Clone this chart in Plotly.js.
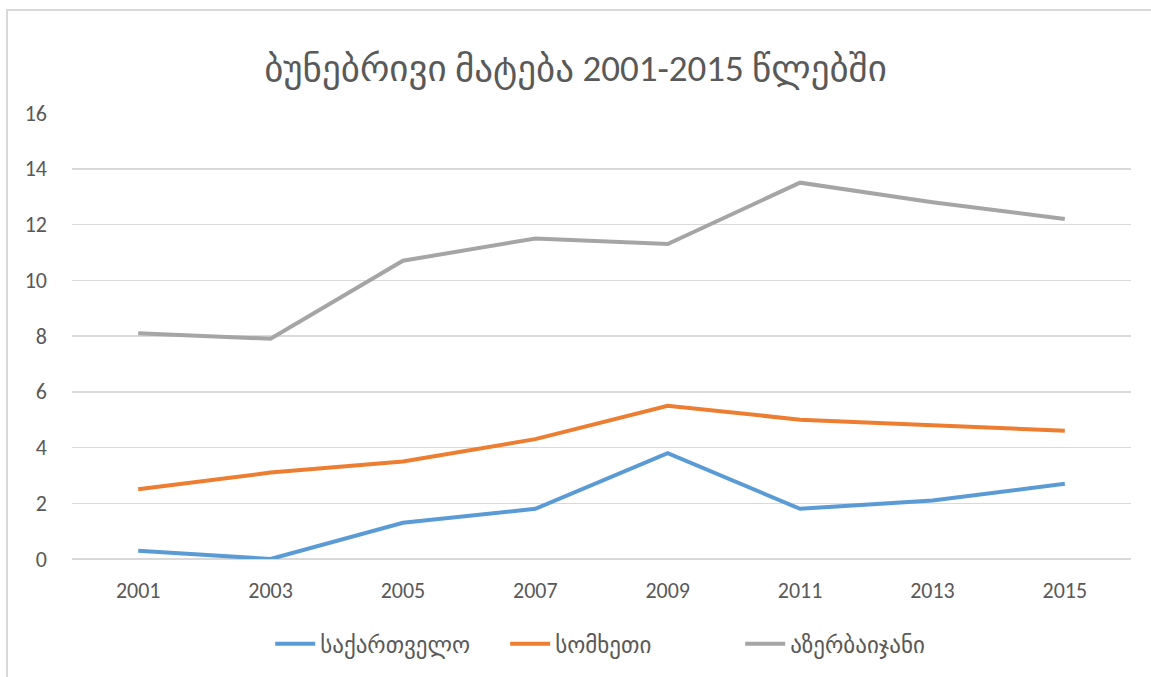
<!DOCTYPE html>
<html>
<head>
<meta charset="utf-8">
<script src="https://cdn.plot.ly/plotly-3.0.1.min.js"></script>
<style>
  html, body { margin: 0; padding: 0; background: #fff; overflow: hidden; }
  #wrap { position: relative; width: 1151px; height: 677px; }
  #chart { position: absolute; left: 0; top: 0; width: 1151px; height: 677px; }
  #frame { position: absolute; left: 6px; top: 9px; width: 1200px; height: 700px;
           border: 2px solid #d9d9d9; pointer-events: none; box-sizing: border-box; }
</style>
</head>
<body>
<div id="wrap"><div id="chart"></div><div id="frame"></div></div>
<script>
const years = ["2001", "2003", "2005", "2007", "2009", "2011", "2013", "2015"];
const georgia = [0.3, 0.0, 1.3, 1.8, 3.8, 1.8, 2.1, 2.7];
const armenia = [2.5, 3.1, 3.5, 4.3, 5.5, 5.0, 4.8, 4.6];
const azerbaijan = [8.1, 7.9, 10.7, 11.5, 11.3, 13.5, 12.8, 12.2];
const seriesNames = ["საქართველო", "სომხეთი", "აზერბაიჯანი"];
const titleText = "ბუნებრივი მატება 2001-2015 წლებში";

const colors = ["#5B9BD5", "#ED7D31", "#A5A5A5"];
const fontFam = "Calibri, Carlito, 'DejaVu Sans', 'Open Sans', sans-serif";

const traces = [georgia, armenia, azerbaijan].map((vals, i) => ({
  x: years, y: vals, type: "scatter", mode: "lines", name: seriesNames[i],
  line: { color: colors[i], width: 4, shape: "linear" }
}));

const layout = {
  width: 1151, height: 677,
  margin: { l: 72, r: 20, t: 113, b: 118 },
  paper_bgcolor: "rgba(0,0,0,0)", plot_bgcolor: "#fff",
  font: { family: fontFam, color: "#595959", size: 22 },
  title: { text: titleText, x: 0.5, xanchor: "center", y: 0.9, yanchor: "middle",
           font: { family: fontFam, size: 37, color: "#595959" } },
  xaxis: { type: "category", range: [-0.5, 7.5], showgrid: false, zeroline: false,
           showline: false, ticks: "", ticklabelstandoff: 16,
           tickfont: { size: 22, color: "#595959" }, fixedrange: true },
  yaxis: { range: [0, 16], dtick: 2, tick0: 0, showgrid: true, gridcolor: "#d9d9d9",
           gridwidth: 1.5, zeroline: true, zerolinecolor: "#d9d9d9", zerolinewidth: 1.5,
           showline: false, ticks: "", ticklabelstandoff: 24,
           tickfont: { size: 22, color: "#595959" }, fixedrange: true },
  showlegend: true,
  legend: { orientation: "h", x: 0.52, xanchor: "center", y: -0.19, yanchor: "middle",
            font: { size: 23, color: "#595959" }, itemwidth: 40, tracegroupgap: 0,
            entrywidth: 180, entrywidthmode: "pixels" },
  hovermode: false
};

Plotly.newPlot("chart", traces, layout, { displayModeBar: false, staticPlot: true });
</script>
</body>
</html>
